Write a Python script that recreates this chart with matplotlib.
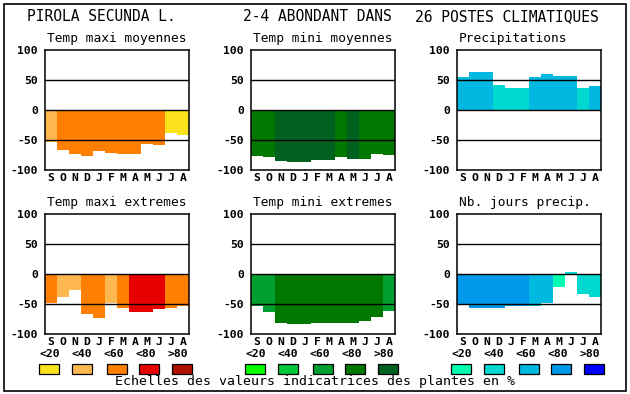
import numpy as np
import matplotlib
matplotlib.use("Agg")
import matplotlib.pyplot as plt
from matplotlib.patches import Rectangle

plt.rcParams['font.family'] = ['DejaVu Sans Mono']

W, H = 630, 394

months = ['S', 'O', 'N', 'D', 'J', 'F', 'M', 'A', 'M', 'J', 'J', 'A']
class_labels = ['<20', '<40', '<60', '<80', '>80']

# colour scales (one per panel column)
orange_scale = ['#fbe21c', '#ffb850', '#ff8000', '#e80000', '#b01000']
green_scale = ['#00ff00', '#00c838', '#00a030', '#007800', '#006020']
blue_scale = ['#00ffb0', '#00d8d0', '#00b8e0', '#0098e8', '#0000ff']

tmax_moy = [-54, -66, -73, -76, -68, -71, -73, -73, -56, -58, -38, -41]
tmax_moy_cls = [1, 2, 2, 2, 2, 2, 2, 2, 2, 2, 0, 0]

tmin_moy = [-77, -78, -85, -87, -87, -83, -83, -78, -82, -82, -73, -75]
tmin_moy_cls = [3, 3, 4, 4, 4, 4, 4, 3, 4, 3, 3, 3]

precip = [55, 63, 63, 42, 37, 37, 55, 60, 57, 57, 37, 40]
precip_cls = [2, 2, 2, 1, 1, 1, 2, 2, 2, 2, 1, 2]

tmax_ext = [-48, -38, -26, -66, -73, -48, -56, -63, -63, -58, -56, -53]
tmax_ext_cls = [2, 1, 1, 2, 2, 1, 2, 3, 3, 3, 2, 2]

tmin_ext = [-54, -64, -81, -84, -83, -81, -81, -81, -81, -78, -71, -61]
tmin_ext_cls = [2, 2, 3, 3, 3, 3, 3, 3, 3, 3, 3, 2]

njours = [-50, -56, -56, -56, -54, -54, -54, -49, -21, 3, -34, -38]
njours_cls = [3, 3, 3, 3, 3, 3, 2, 2, 0, 1, 1, 1]

panels = [
    ('Temp maxi moyennes', tmax_moy, tmax_moy_cls, orange_scale),
    ('Temp mini moyennes', tmin_moy, tmin_moy_cls, green_scale),
    ('Precipitations', precip, precip_cls, blue_scale),
    ('Temp maxi extremes', tmax_ext, tmax_ext_cls, orange_scale),
    ('Temp mini extremes', tmin_ext, tmin_ext_cls, green_scale),
    ('Nb. jours precip.', njours, njours_cls, blue_scale),
]


def fx(px):
    return px / W


def fy(py):
    return 1 - py / H


fig = plt.figure(figsize=(W / 100, H / 100), dpi=100)
fig.patch.set_facecolor('white')

# outer frame
fig.patches.append(Rectangle((fx(4), fy(391)), fx(622), (391 - 4) / H,
                             transform=fig.transFigure, fill=False,
                             edgecolor='black', linewidth=1.2))

lefts = [45, 251, 457]
tops = [50, 214]
aw, ah = 144, 120

for k, (title, vals, cls, scale) in enumerate(panels):
    col, row = k % 3, k // 3
    left, top = lefts[col], tops[row]
    ax = fig.add_axes([fx(left), fy(top + ah), aw / W, ah / H])
    x = np.arange(12) + 0.5
    ax.bar(x, vals, width=1.0, color=[scale[c] for c in cls], linewidth=0, zorder=2)
    for yv in (50, 0, -50):
        ax.axhline(yv, color='black', lw=1.0, zorder=3)
    ax.set_xlim(0, 12)
    ax.set_ylim(-100, 100)
    ax.set_yticks([-100, -50, 0, 50, 100])
    ax.set_yticklabels(['-100', '-50', '0', '50', '100'], fontweight='bold', fontsize=8.2)
    ax.set_xticks(x)
    ax.set_xticklabels(months, fontweight='bold', fontsize=8.2)
    ax.tick_params(length=0)
    ax.tick_params(axis='y', pad=5)
    ax.tick_params(axis='x', pad=2)
    for s in ax.spines.values():
        s.set_linewidth(1.1)
        s.set_zorder(4)
    fig.text(fx(left + 2), fy(top - 8), title, fontsize=9.3, ha='left', va='baseline')

# main title
fig.text(fx(27), fy(21), 'PIROLA SECUNDA L.', fontsize=10.5, ha='left', va='baseline')
fig.text(fx(243), fy(21), '2-4 ABONDANT DANS', fontsize=10.5, ha='left', va='baseline')
fig.text(fx(415), fy(21), '26 POSTES CLIMATIQUES', fontsize=10.5, ha='left', va='baseline')

# legend scales
label_off = [0, 32, 64, 96, 128]
box_off = [0, 33, 68, 100, 133]
for col, scale in enumerate([orange_scale, green_scale, blue_scale]):
    g0 = lefts[col] - 6
    for i in range(5):
        fig.text(fx(g0 + label_off[i]), fy(354), class_labels[i], fontsize=8.2,
                 fontweight='bold', ha='left', va='center')
        fig.patches.append(Rectangle((fx(g0 + box_off[i]), fy(373.5)), 20 / W, 9.5 / H,
                                     transform=fig.transFigure, facecolor=scale[i],
                                     edgecolor='black', linewidth=0.9))

fig.text(fx(315), fy(385), 'Echelles des valeurs indicatrices des plantes en %',
         fontsize=9.5, ha='center', va='baseline')

fig.savefig('out.png', dpi=100)
